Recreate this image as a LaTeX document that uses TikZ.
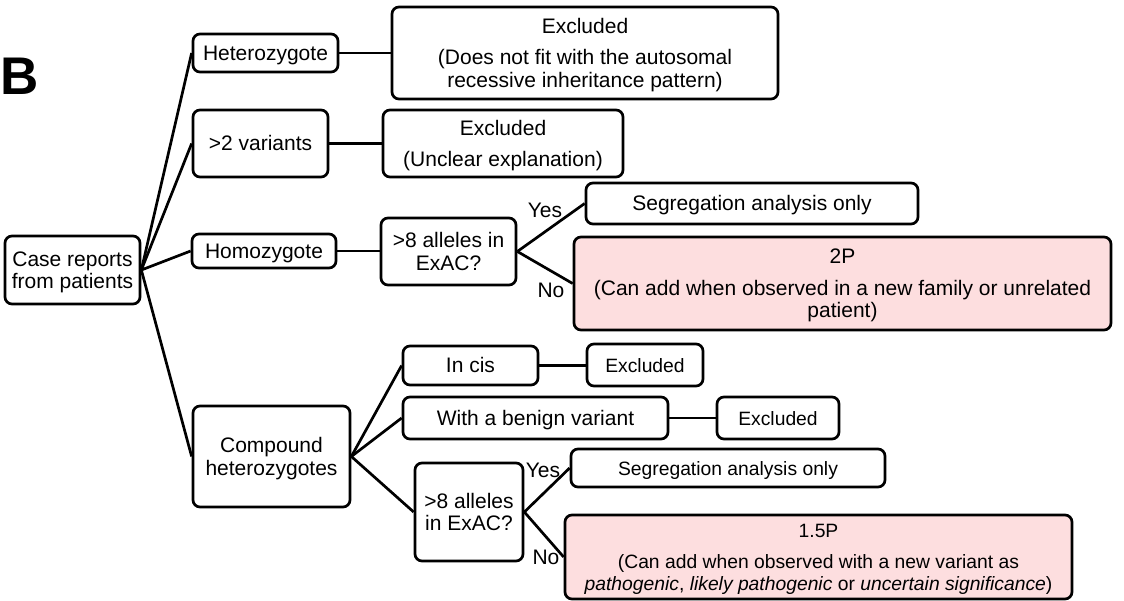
\documentclass[tikz,border=0pt]{standalone}
\usepackage{fontspec}
\setmainfont{Liberation Sans}
\definecolor{pinkfill}{RGB}{253,222,223}
\newcommand\fsbig{\fontsize{21}{22.5}\selectfont}
\newcommand\fssmall{\fontsize{19.3}{22}\selectfont}
% centred lines of box text, lowered a little so the capitals sit mid-box
\newcommand\bt[1]{\raisebox{-3pt}[\height][\depth]{\begin{tabular}{@{}c@{}}#1\end{tabular}}}
\begin{document}
\begin{tikzpicture}[x=1pt,y=-1pt,
  box/.style={draw, line width=2.7pt, rounded corners=7pt, inner sep=0pt, font=\fsbig},
  smallbox/.style={box, font=\fssmall},
  pinkbox/.style={box, fill=pinkfill},
  link/.style={line width=2.7pt},
  lbl/.style={inner sep=0pt, font=\fsbig}]
\useasboundingbox (0,0) rectangle (1124,601);

% panel letter
\node[inner sep=0pt, anchor=base west, font=\fontsize{53}{60}\selectfont\bfseries] (panel) at (0,95) {B};

% first level
\node[box, minimum width=135pt, minimum height=68pt] (case) at (72.5,270) {\bt{Case reports\\from patients}};
\node[box, minimum width=145pt, minimum height=38pt] (het) at (265.5,53) {\bt{Heterozygote}};
\node[box, minimum width=135pt, minimum height=67pt] (var2) at (260.5,143.5) {\bt{>2 variants}};
\node[box, minimum width=144pt, minimum height=34pt] (hom) at (264,251) {\bt{Homozygote}};
\node[box, minimum width=157pt, minimum height=101pt] (comp) at (271.5,456.5) {\bt{Compound\\heterozygotes}};

% outcomes of heterozygote / >2 variants
\node[box, minimum width=386pt, minimum height=92pt] (exc1) at (585,53)
  {\bt{Excluded\\[9pt](Does not fit with the autosomal\\recessive inheritance pattern)}};
\node[box, minimum width=240pt, minimum height=67pt] (exc2) at (503,143.5)
  {\bt{Excluded\\[9pt](Unclear explanation)}};

% homozygote branch
\node[box, minimum width=135pt, minimum height=67pt] (allA) at (448.5,251.5) {\bt{>8 alleles in\\ExAC?}};
\node[box, minimum width=332pt, minimum height=41pt] (segA) at (752,203.5) {\bt{Segregation analysis only}};
\node[pinkbox, minimum width=537pt, minimum height=93pt] (p2) at (842.5,283.5)
  {\bt{2P\\[9pt](Can add when observed in a new family or unrelated\\patient)}};

% compound heterozygote branch
\node[box, minimum width=135pt, minimum height=39pt] (cis) at (470.5,365.5) {\bt{In cis}};
\node[smallbox, minimum width=116pt, minimum height=42pt] (exc3) at (645,365) {\bt{Excluded}};
\node[box, minimum width=265pt, minimum height=42pt] (ben) at (535.5,418) {\bt{With a benign variant}};
\node[smallbox, minimum width=122pt, minimum height=42pt] (exc4) at (778,418) {\bt{Excluded}};
\node[box, minimum width=108pt, minimum height=98pt] (allB) at (469,512) {\bt{>8 alleles\\in ExAC?}};
\node[smallbox, minimum width=314pt, minimum height=38pt] (segB) at (728,468) {\bt{Segregation analysis only}};
\node[smallbox, fill=pinkfill, minimum width=507pt, minimum height=84pt] (p15) at (818.5,557)
  {\bt{1.5P\\[9pt](Can add when observed with a new variant as\\\textit{pathogenic}, \textit{likely pathogenic} or \textit{uncertain significance})}};

% answer labels
\node[lbl] (yesA) at (545,210) {Yes};
\node[lbl] (noA) at (551,290) {No};
\node[lbl] (yesB) at (543,470) {Yes};
\node[lbl] (noB) at (546,557) {No};

% connectors
\draw[link] (case.east) -- (het.west);
\draw[link] (case.east) -- (var2.west);
\draw[link] (case.east) -- (hom.west);
\draw[link] (case.east) -- (comp.west);
\draw[link] (het.east) -- (het.east -| exc1.west);
\draw[link] (var2.east) -- (var2.east -| exc2.west);
\draw[link] (hom.east) -- (hom.east -| allA.west);
\draw[link] (allA.east) -- (segA.west);
\draw[link] (allA.east) -- (p2.west);
\draw[link] (comp.east) -- (cis.west);
\draw[link] (comp.east) -- (ben.west);
\draw[link] (comp.east) -- (allB.west);
\draw[link] (cis.east) -- (cis.east -| exc3.west);
\draw[link] (ben.east) -- (ben.east -| exc4.west);
\draw[link] (allB.east) -- (segB.west);
\draw[link] (allB.east) -- (p15.west);
\end{tikzpicture}
\end{document}
